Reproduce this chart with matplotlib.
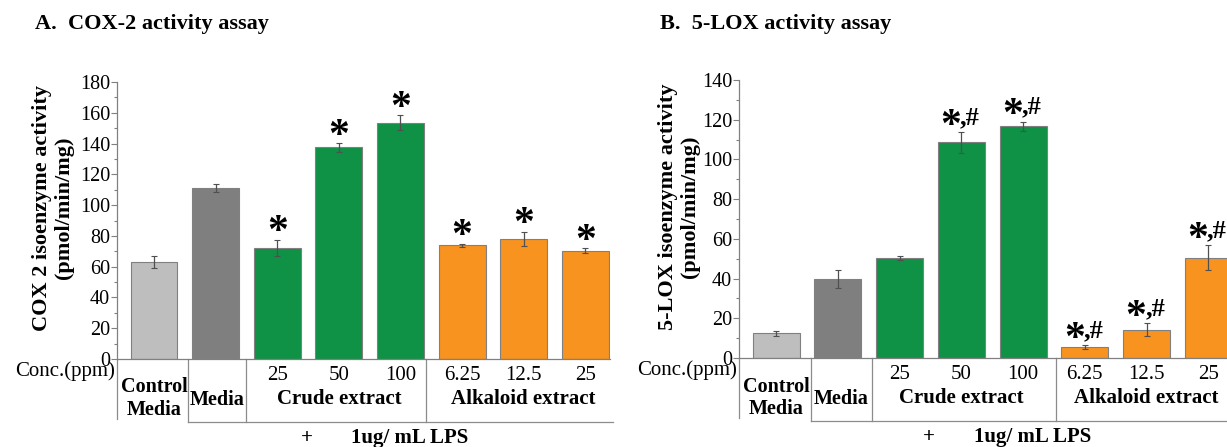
import numpy as np
import matplotlib
matplotlib.use("Agg")
import matplotlib.pyplot as plt

plt.rcParams["font.family"] = ["Liberation Serif", "DejaVu Serif"]

# data
groups = ["Control\nMedia", "Media", "Crude extract", "Alkaloid extract"]
conc_labels = ["", "", "25", "50", "100", "6.25", "12.5", "25"]
bar_colors = ["#BEBEBE", "#7F7F7F", "#0F9146", "#0F9146", "#0F9146",
              "#F7931E", "#F7931E", "#F7931E"]

cox2_mean = [63.0, 111.2, 72.4, 137.5, 153.6, 73.9, 78.2, 70.4]
cox2_err = [4.0, 2.8, 5.2, 2.7, 4.8, 0.9, 4.5, 1.6]
cox2_sig = ["", "", "*", "*", "*", "*", "*", "*"]

lox_mean = [12.4, 39.6, 50.3, 108.6, 116.8, 5.6, 14.3, 50.6]
lox_err = [1.3, 4.5, 1.1, 5.4, 2.3, 0.9, 3.2, 6.5]
lox_sig = ["", "", "", "*,#", "*,#", "*,#", "*,#", "*,#"]

x = np.arange(len(cox2_mean))

fig = plt.figure(figsize=(12.27, 4.47), dpi=100)

axA = fig.add_axes([117 / 1227, 1 - 359 / 447, 493 / 1227, 277 / 447])
axB = fig.add_axes([739 / 1227, 1 - 358 / 447, 494 / 1227, 278 / 447])


def draw_panel(ax, mean, err, sig, ymax, ystep, ylabel, label_x, dividers):
    ax.bar(x, mean, width=0.76, color=bar_colors, edgecolor="#808080",
           linewidth=0.8, zorder=2)
    ax.errorbar(x, mean, yerr=err, fmt="none", ecolor="#505050",
                elinewidth=0.9, capsize=2.5, capthick=0.8, zorder=3)
    ax.set_xlim(-0.6, 7.4)
    ax.set_ylim(0, ymax)
    ax.set_yticks(np.arange(0, ymax + 1, ystep))
    ax.set_yticks(np.arange(0, ymax + 1, ystep / 2), minor=True)
    ax.set_xticks([])
    for s in ["top", "right"]:
        ax.spines[s].set_visible(False)
    ax.spines["left"].set_color("#808080")
    ax.spines["bottom"].set_color("#808080")
    ax.spines["left"].set_linewidth(0.9)
    ax.spines["bottom"].set_linewidth(0.9)
    ax.tick_params(axis="y", which="major", length=4, width=0.8,
                   color="#808080", labelsize=14.5, pad=1)
    ax.tick_params(axis="y", which="minor", length=2.5, width=0.8,
                   color="#808080")

    ax.text(label_x, 0.545, ylabel, transform=ax.transAxes, rotation=90,
            ha="center", va="center", fontsize=16, fontweight="bold",
            multialignment="center", linespacing=1.12)

    # significance marks
    for xi, m, e, s in zip(x, mean, err, sig):
        if not s:
            continue
        if s == "*":
            ax.annotate("*", xy=(xi, m + e), xytext=(0, -9),
                        textcoords="offset points", ha="center",
                        va="bottom", fontsize=30, fontweight="bold",
                        annotation_clip=False)
        else:
            ax.annotate("*", xy=(xi, m + e), xytext=(0, -10),
                        textcoords="offset points", ha="right",
                        va="bottom", fontsize=30, fontweight="bold",
                        annotation_clip=False)
            ax.annotate(",#", xy=(xi, m + e), xytext=(-1, 2),
                        textcoords="offset points", ha="left",
                        va="bottom", fontsize=19, fontweight="bold",
                        annotation_clip=False)

    # table under the axis
    tr = ax.get_xaxis_transform()
    lc = "#8C8C8C"
    ax.plot([-0.6, -0.6], [0, -0.215], transform=tr, color=lc, lw=0.9,
            clip_on=False)
    ax.plot([dividers[0], 7.4 + 0.05], [-0.228, -0.228], transform=tr,
            color=lc, lw=0.9, clip_on=False)
    for d in dividers:
        ax.plot([d, d], [0, -0.228], transform=tr, color=lc, lw=0.9,
                clip_on=False)

    ax.text(-0.64, -0.042, "Conc.(ppm)", transform=tr, ha="right",
            va="center", fontsize=15)
    for xi, c in zip(x, conc_labels):
        if c:
            ax.text(xi, -0.058, c, transform=tr, ha="center", va="center",
                    fontsize=15)
    ax.text(0, -0.143, groups[0], transform=tr, ha="center", va="center",
            fontsize=14.5, fontweight="bold", linespacing=1.15)
    ax.text((dividers[0] + dividers[1]) / 2, -0.148, groups[1], transform=tr,
            ha="center", va="center", fontsize=14.5, fontweight="bold")
    ax.text(3, -0.143, groups[2], transform=tr, ha="center", va="center",
            fontsize=15, fontweight="bold")
    ax.text(6, -0.143, groups[3], transform=tr, ha="center", va="center",
            fontsize=15, fontweight="bold")
    ax.text(2.48, -0.285, "+", transform=tr, ha="center", va="center",
            fontsize=15, fontweight="bold")
    ax.text(4.15, -0.285, "1ug/ mL LPS", transform=tr, ha="center",
            va="center", fontsize=15, fontweight="bold")


draw_panel(axA, cox2_mean, cox2_err, cox2_sig, 180, 20,
           "COX 2 isoenzyme activity\n(pmol/min/mg)", -0.13,
           [0.55, 1.49, 4.42])
draw_panel(axB, lox_mean, lox_err, lox_sig, 140, 20,
           "5-LOX isoenzyme activity\n(pmol/min/mg)", -0.121,
           [0.57, 1.55, 4.54])

fig.text(35 / 1227, 1 - 24 / 447, "A.  COX-2 activity assay", ha="left",
         va="center", fontsize=16, fontweight="bold")
fig.text(660 / 1227, 1 - 24 / 447, "B.  5-LOX activity assay", ha="left",
         va="center", fontsize=16, fontweight="bold")

fig.savefig("out.png", dpi=100)
